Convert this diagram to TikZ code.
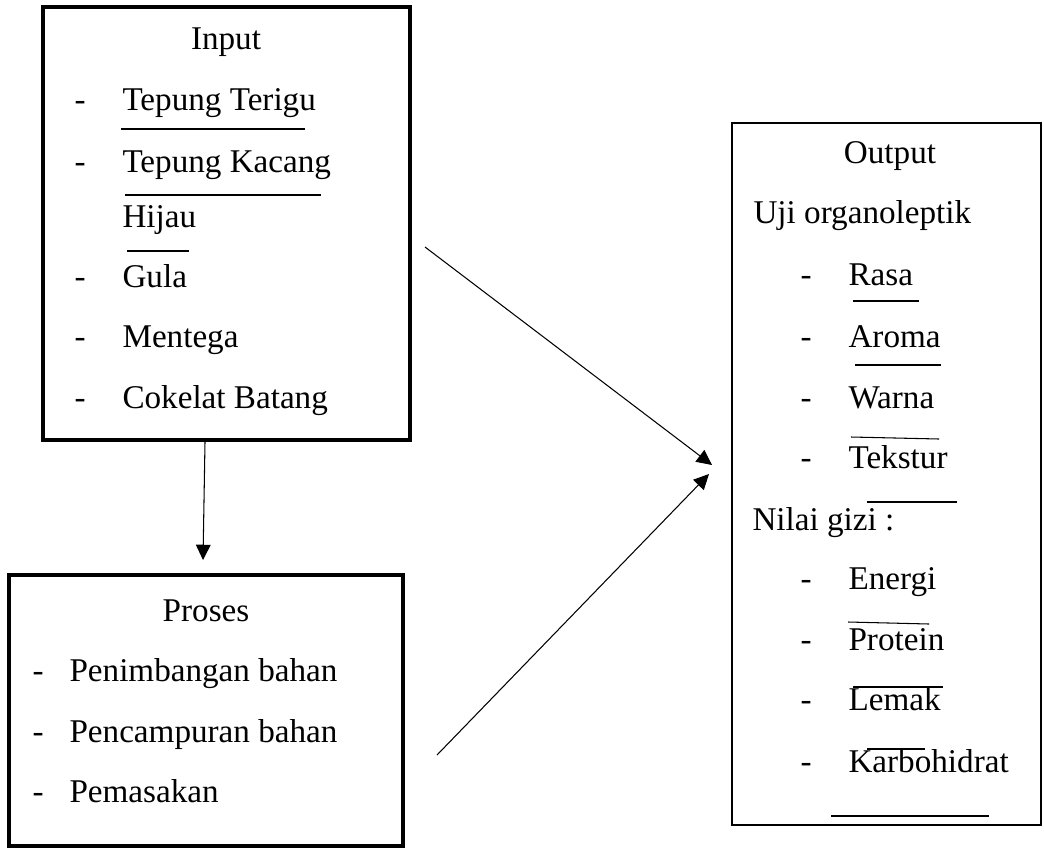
\documentclass[tikz,border=0pt]{standalone}
\usepackage{fontspec}
\setmainfont{Liberation Serif}
\usetikzlibrary{arrows.meta}

\def\u{0.38pt}
\tikzset{
  kotaktebal/.style={draw, line width=1.8pt, inner sep=0pt},
  kotaktipis/.style={draw, line width=0.8pt, inner sep=0pt},
  teks/.style={anchor=base west, inner sep=0pt, font=\fontsize{12.6}{15}\selectfont},
  judul/.style={anchor=base, inner sep=0pt, font=\fontsize{12.6}{15}\selectfont},
  panah/.style={-{Triangle[length=5.8pt,width=5.6pt]}, line width=0.4pt},
  garis/.style={line width=0.4pt}
}

\begin{document}
\begin{tikzpicture}[x=\u, y=-\u]
   \useasboundingbox (0,0) rectangle (1044,848);
   % kotak input, proses, output
   \node[kotaktebal, minimum width=367*\u, minimum height=433*\u] (input) at (226.5,223.5) {};
   \node[kotaktebal, minimum width=394*\u, minimum height=271*\u] (proses) at (206,710.5) {};
   \node[kotaktipis, minimum width=309*\u, minimum height=702*\u] (output) at (886.5,474) {};

   % input
   \node[judul] (inT) at (226,50) {Input};
   \foreach \y/\t [count=\i] in {110/Tepung Terigu, 172/Tepung Kacang, 287/Gula, 347/Mentega, 408/Cokelat Batang}{
      \node[teks] (inD\i) at (74,\y) {-};
      \node[teks] (in\i) at (122,\y) {\t};
   }
   \node[teks] (inH) at (122,227) {Hijau};

   % proses
   \node[judul] (prT) at (206,621) {Proses};
   \foreach \y/\t [count=\i] in {681/Penimbangan bahan, 742/Pencampuran bahan, 802/Pemasakan}{
      \node[teks] (prD\i) at (32,\y) {-};
      \node[teks] (pr\i) at (69,\y) {\t};
   }

   % output
   \node[judul] (outT) at (890,163) {Output};
   \node[teks] (outU) at (753,223) {Uji organoleptik};
   \node[teks] (outN) at (752,530) {Nilai gizi :};
   \foreach \y/\t [count=\i] in {285/Rasa, 347/Aroma, 408/Warna, 468/Tekstur, 589/Energi, 650/Protein, 710/Lemak, 772/Karbohidrat}{
      \node[teks] (outD\i) at (800,\y) {-};
      \node[teks] (out\i) at (848,\y) {\t};
   }

   % garis lepas
   \foreach \xa/\ya/\xb/\yb in {121/129/305/129, 125/195/321/195, 127/251/189/251,
      853/301/919/301, 855/365/941/365, 851/437/939/439, 867/502/957/502,
      848/622/929/624, 853/687/943/687, 867/749/925/749, 831/816/989/816}
      \draw[garis] (\xa,\ya) -- (\xb,\yb);

   % panah
   \coordinate (a1) at (425,247);
   \coordinate (t1) at (712,465);
   \coordinate (a2) at (437,755);
   \coordinate (t2) at (709,474);
   \coordinate (a3) at (205,442);
   \coordinate (t3) at (203,560);
   \draw[panah] (a1) -- (t1);
   \draw[panah] (a2) -- (t2);
   \draw[panah] (a3) -- (t3);
\end{tikzpicture}
\end{document}
